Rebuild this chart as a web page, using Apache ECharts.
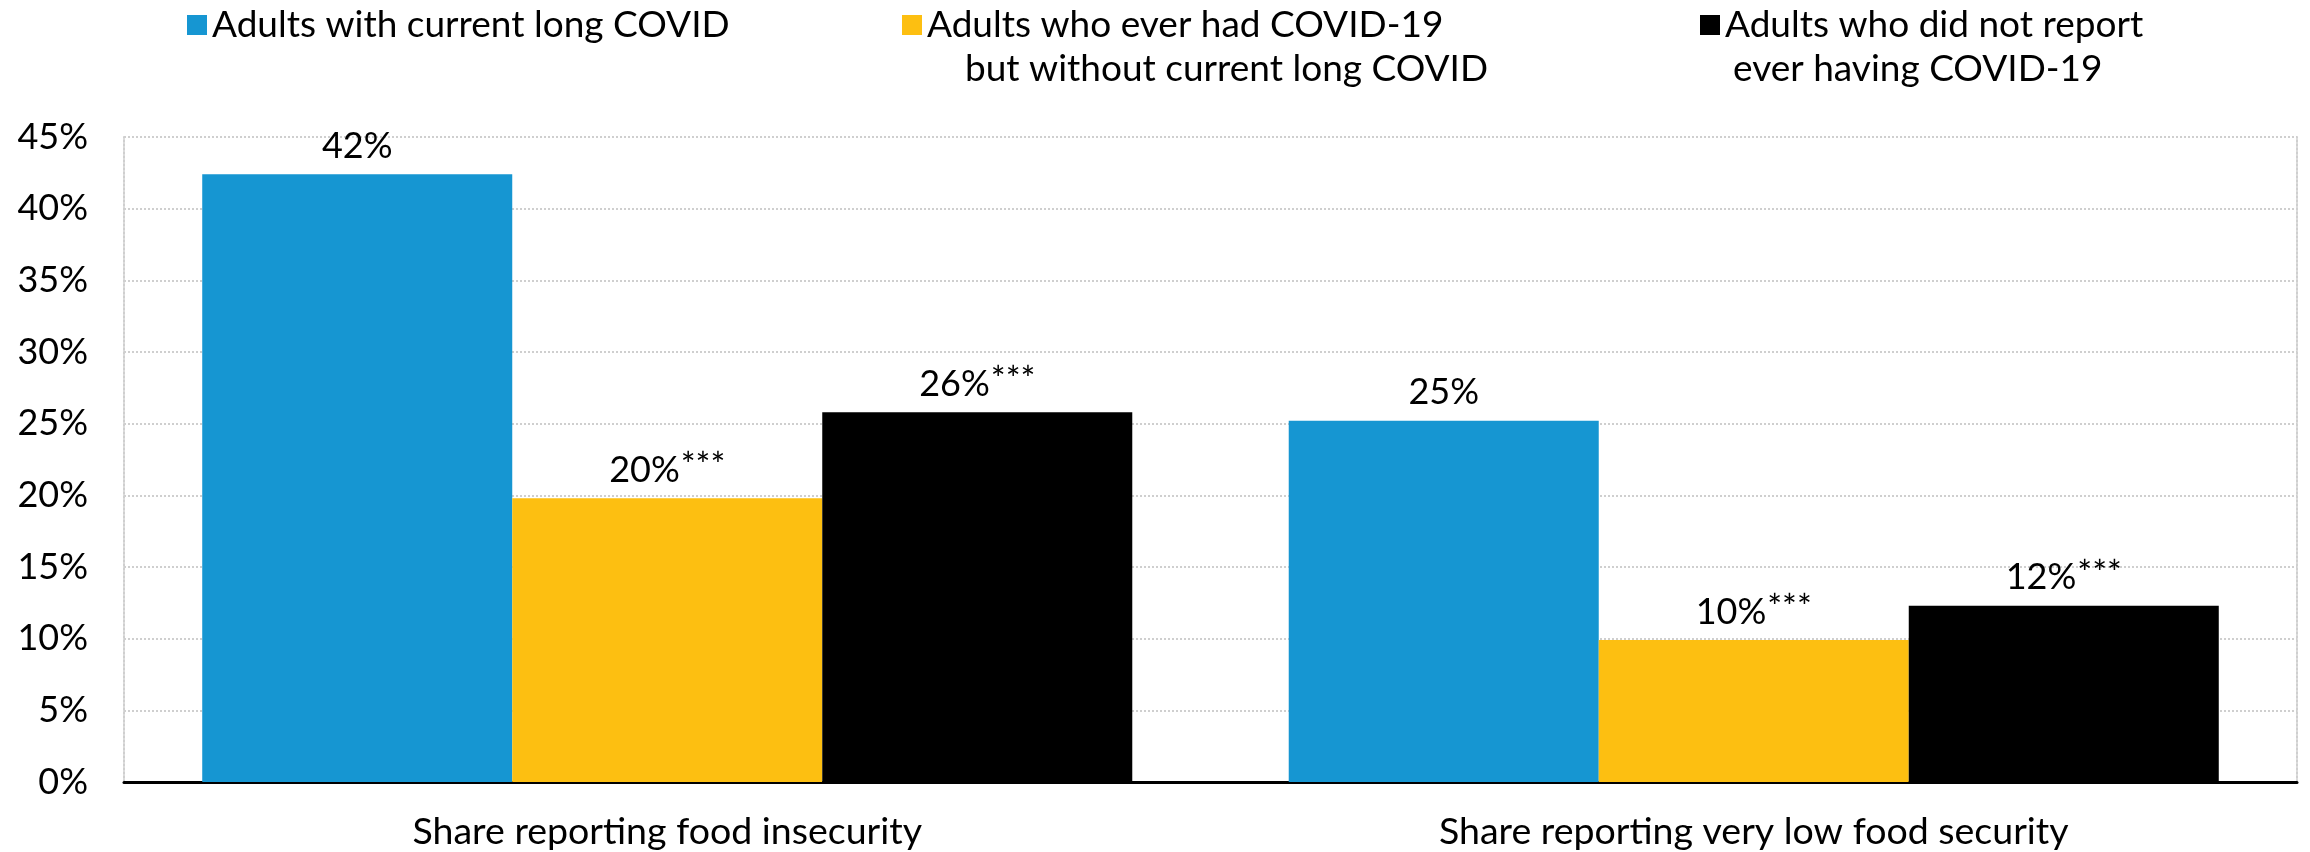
<!DOCTYPE html>
<html>
<head>
<meta charset="utf-8">
<script src="https://cdn.jsdelivr.net/npm/echarts@6/dist/echarts.min.js"></script>
<style>
  html, body { margin: 0; padding: 0; background: #fff; }
  #chart { width: 2310px; height: 852px; }
</style>
</head>
<body>
<div id="chart"></div>
<script>
  // categories and values (percent)
  var categories = ['Share reporting food insecurity', 'Share reporting very low food security']
  var longCovid = [42.4, 25.2]
  var everHad = [19.8, 9.9]
  var neverHad = [25.8, 12.3]
  // significance markers shown after the rounded value
  var longCovidSig = ['', '']
  var everHadSig = ['***', '***']
  var neverHadSig = ['***', '***']
  var yTicks = [0, 5, 10, 15, 20, 25, 30, 35, 40, 45]

  var seriesNames = ['long', 'ever', 'never']

  var chart = echarts.init(document.getElementById('chart'))

  function barLabel(sig) {
    return {
      show: true,
      position: 'top',
      distance: 8,
      formatter: function (p) {
        var s = sig[p.dataIndex]
        return '{v|' + Math.round(p.value) + '%}' + (s ? '{s|' + s + '}' : '')
      },
      rich: {
        v: { fontFamily: 'Lato', fontSize: 36, color: '#000', lineHeight: 40 },
        s: { fontFamily: 'Lato', fontSize: 35, color: '#000', lineHeight: 40, padding: [0, 0, 8, 1] }
      }
    }
  }

  function legendBox(name, left, top, text, padTop) {
    return {
      data: [name],
      left: left,
      top: top,
      padding: 0,
      icon: 'rect',
      itemWidth: 20,
      itemHeight: 20,
      itemGap: 9,
      selectedMode: false,
      formatter: function () { return text },
      textStyle: {
        fontFamily: 'Lato',
        fontSize: 37,
        color: '#000',
        lineHeight: 44,
        padding: [padTop, 0, 0, 0],
        rich: {
          a: { fontFamily: 'Lato', fontSize: 37, color: '#000', lineHeight: 44 },
          b: { fontFamily: 'Lato', fontSize: 37, color: '#000', lineHeight: 44, padding: [0, 0, 0, 38] },
          c: { fontFamily: 'Lato', fontSize: 37, color: '#000', lineHeight: 44, padding: [0, 0, 0, 8] }
        }
      }
    }
  }

  chart.setOption({
    backgroundColor: '#fff',
    animation: false,
    legend: [
      legendBox('long', 187, 3, 'Adults with current long COVID', 0),
      legendBox('ever', 902, -41, '{a|Adults who ever had COVID-19}\n{b|but without current long COVID}', 44),
      legendBox('never', 1700, -41, '{a|Adults who did not report}\n{c|ever having COVID-19}', 44)
    ],
    grid: {
      left: 124,
      right: 13,
      top: 137,
      bottom: 70
    },
    xAxis: {
      type: 'category',
      data: categories,
      axisTick: { show: false },
      axisLine: { lineStyle: { color: '#000', width: 3 } },
      axisLabel: {
        fontFamily: 'Lato',
        fontSize: 37.5,
        color: '#000',
        margin: 31
      }
    },
    yAxis: [
      {
        type: 'value',
        min: yTicks[0],
        max: yTicks[yTicks.length - 1],
        interval: 5,
        axisLine: { show: true, lineStyle: { color: '#cfcfcf', width: 2, type: 'dotted' } },
        axisTick: { show: false },
        axisLabel: {
          fontFamily: 'Lato',
          fontSize: 36,
          color: '#000',
          margin: 36,
          formatter: '{value}%'
        },
        splitLine: { lineStyle: { color: '#cfcfcf', width: 2, type: 'dotted' } }
      },
      {
        type: 'value',
        position: 'right',
        min: yTicks[0],
        max: yTicks[yTicks.length - 1],
        interval: 5,
        axisLine: { show: true, lineStyle: { color: '#cfcfcf', width: 2, type: 'dotted' } },
        axisTick: { show: false },
        axisLabel: { show: false },
        splitLine: { show: false }
      }
    ],
    series: [
      {
        name: seriesNames[0],
        type: 'bar',
        data: longCovid,
        barGap: 0,
        barCategoryGap: '14.4%',
        itemStyle: { color: '#1696d2' },
        label: barLabel(longCovidSig)
      },
      {
        name: seriesNames[1],
        type: 'bar',
        data: everHad,
        barGap: 0,
        barCategoryGap: '14.4%',
        itemStyle: { color: '#fdbf11' },
        label: barLabel(everHadSig)
      },
      {
        name: seriesNames[2],
        type: 'bar',
        data: neverHad,
        barGap: 0,
        barCategoryGap: '14.4%',
        itemStyle: { color: '#000000' },
        label: barLabel(neverHadSig)
      }
    ]
  })
</script>
</body>
</html>
